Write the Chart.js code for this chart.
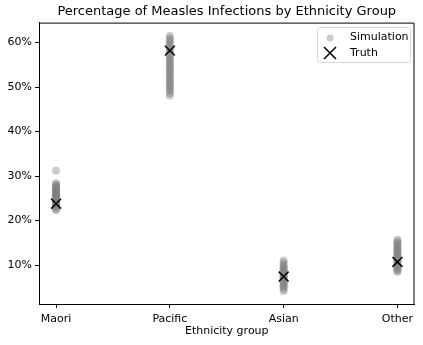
<!DOCTYPE html>
<html lang="en">
<head>
<meta charset="utf-8" />
<title>Percentage of Measles Infections by Ethnicity Group</title>
<script src="https://cdn.jsdelivr.net/npm/chart.js@4.4.1/dist/chart.umd.min.js"></script>
<style>
  html, body { margin: 0; padding: 0; background: #fff; }
  #wrap { position: relative; width: 423px; height: 345px; }
</style>
</head>
<body>
<div id="wrap"><canvas id="chart" width="423" height="345"></canvas></div>
<script>
const categories = ["Maori", "Pacific", "Asian", "Other"];

// simulated percentages per group
const simMaori = [31.2, 28.4, 28.1, 27.9, 27.6, 27.4, 27.2, 27.0, 26.8, 26.6, 26.4, 26.3, 26.1, 25.9, 25.8, 25.6,
  25.5, 25.3, 25.1, 25.0, 24.8, 24.6, 24.5, 24.3, 24.1, 23.9, 23.7, 23.5, 23.2, 22.9, 22.6, 22.3];
const simPacific = [61.5, 61.0, 60.6, 60.1, 59.7, 59.3, 58.8, 58.4, 58.0, 57.6, 57.1, 56.7, 56.3, 55.9, 55.5, 55.1,
  54.7, 54.3, 53.9, 53.5, 53.1, 52.7, 52.3, 51.9, 51.5, 51.1, 50.7, 50.3, 49.9, 49.5, 49.1, 48.6, 48.1];
const simAsian = [11.0, 10.5, 10.1, 9.7, 9.4, 9.1, 8.8, 8.5, 8.2, 7.9, 7.6, 7.4, 7.1, 6.9, 6.6, 6.4, 6.1, 5.9,
  5.6, 5.3, 5.0, 4.6, 4.1];
const simOther = [15.7, 15.3, 15.0, 14.7, 14.4, 14.1, 13.8, 13.5, 13.2, 12.9, 12.6, 12.3, 12.0, 11.7, 11.4, 11.1,
  10.8, 10.5, 10.2, 9.9, 9.6, 9.3, 9.0, 8.7, 8.5];

const truthValues = [23.8, 58.2, 7.4, 10.7];
const yTicks = [10, 20, 30, 40, 50, 60];

const simGroups = [simMaori, simPacific, simAsian, simOther];
const simPoints = simGroups.flatMap((vals, i) => vals.map((v) => ({ x: i, y: v })));
const truthPoints = truthValues.map((v, i) => ({ x: i, y: v }));

const FONT = "'DejaVu Sans', sans-serif";

// matplotlib-style top/right spines + legend inside the axes
const framePlugin = {
  id: "frame",
  afterDraw(chart) {
    const { ctx, chartArea: a } = chart;
    ctx.save();
    ctx.strokeStyle = "#000";
    ctx.lineWidth = 1;
    ctx.beginPath();
    ctx.moveTo(a.left, a.top + 0.5);
    ctx.lineTo(a.right - 0.5, a.top + 0.5);
    ctx.lineTo(a.right - 0.5, a.bottom);
    ctx.stroke();

    // legend box
    const bx = 317.5, by = 27.5, bw = 93, bh = 35, r = 3;
    ctx.beginPath();
    ctx.moveTo(bx + r, by);
    ctx.arcTo(bx + bw, by, bx + bw, by + bh, r);
    ctx.arcTo(bx + bw, by + bh, bx, by + bh, r);
    ctx.arcTo(bx, by + bh, bx, by, r);
    ctx.arcTo(bx, by, bx + bw, by, r);
    ctx.closePath();
    ctx.fillStyle = "rgba(255,255,255,0.8)";
    ctx.fill();
    ctx.strokeStyle = "#d6d6d6";
    ctx.stroke();

    ctx.fillStyle = "rgba(128,128,128,0.4)";
    ctx.beginPath();
    ctx.arc(330, 38, 3.5, 0, Math.PI * 2);
    ctx.fill();

    ctx.strokeStyle = "#000";
    ctx.lineWidth = 1.5;
    ctx.beginPath();
    ctx.moveTo(324, 47); ctx.lineTo(336, 59);
    ctx.moveTo(336, 47); ctx.lineTo(324, 59);
    ctx.stroke();

    ctx.fillStyle = "#000";
    ctx.font = "11px " + FONT;
    ctx.textBaseline = "middle";
    ctx.fillText("Simulation", 350, 37.5);
    ctx.fillText("Truth", 350, 53);
    ctx.restore();
  },
};

new Chart(document.getElementById("chart"), {
  type: "scatter",
  data: {
    datasets: [
      {
        label: "Simulation",
        data: simPoints,
        backgroundColor: "rgba(128,128,128,0.4)",
        borderWidth: 0,
        pointRadius: 4,
        order: 2,
      },
      {
        label: "Truth",
        data: truthPoints,
        pointStyle: "crossRot",
        borderColor: "#000",
        borderWidth: 1.5,
        pointRadius: 7,
        order: 1,
      },
    ],
  },
  plugins: [framePlugin],
  options: {
    responsive: false,
    animation: false,
    layout: { padding: { left: 0, right: 7, top: 0, bottom: 0 } },
    plugins: {
      legend: { display: false },
      tooltip: { enabled: false },
      title: {
        display: true,
        fullSize: false,
        text: "Percentage of Measles Infections by Ethnicity Group",
        color: "#000",
        font: { family: FONT, size: 13, weight: "normal" },
        padding: { top: 4, bottom: 3 },
      },
    },
    scales: {
      x: {
        type: "linear",
        min: -0.15,
        max: 3.15,
        afterBuildTicks(scale) {
          scale.ticks = categories.map((_, i) => ({ value: i }));
        },
        afterFit(scale) { scale.height = 41; },
        ticks: {
          color: "#000",
          font: { family: FONT, size: 11 },
          padding: 5,
          maxRotation: 0,
          callback: (v) => categories[v],
        },
        grid: { drawOnChartArea: false, tickLength: 4, color: "#000" },
        border: { display: true, color: "#000" },
        title: {
          display: true,
          text: "Ethnicity group",
          color: "#000",
          font: { family: FONT, size: 11 },
          padding: { top: 0, bottom: 7 },
        },
      },
      y: {
        min: 1.24,
        max: 64.5,
        afterBuildTicks(scale) {
          scale.ticks = yTicks.map((v) => ({ value: v }));
        },
        afterFit(scale) { scale.width = 39; },
        ticks: {
          color: "#000",
          font: { family: FONT, size: 11 },
          padding: 3,
          callback: (v) => v + "%",
        },
        grid: { drawOnChartArea: false, tickLength: 4, color: "#000" },
        border: { display: true, color: "#000" },
      },
    },
  },
});
</script>
</body>
</html>
